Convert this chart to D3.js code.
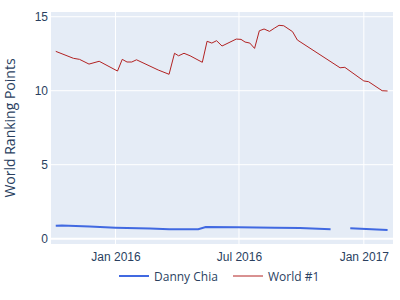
<!DOCTYPE html>
<html lang="en">
<head>
    <meta charset="UTF-8">
    <title>World Ranking Points</title>
    <script src="https://d3js.org/d3.v7.min.js"></script>
    <style>
        body { margin: 0; background: #fff; }
        svg { font-family: "Open Sans", sans-serif; }
        .tick text { fill: #2a3f5f; font-size: 12px; }
    </style>
</head>
<body>
    <div id="chart"></div>
    <script>
        // Danny Chia ranking points (null = gap in the line)
        const chiaDates = ["2015-10-05", "2015-10-14", "2015-11-24", "2016-01-01", "2016-02-21",
            "2016-03-20", "2016-05-02", "2016-05-13", "2016-06-30", "2016-08-23",
            "2016-09-29", "2016-11-13", "2016-11-27", "2016-12-12", "2017-02-05"];
        const chiaPoints = [0.88, 0.89, 0.82, 0.74, 0.68,
            0.64, 0.64, 0.79, 0.77, 0.74,
            0.72, 0.64, null, 0.70, 0.59];

        // World #1 ranking points
        const worldDates = ["2015-10-05", "2015-10-31", "2015-11-09", "2015-11-23", "2015-12-08",
            "2016-01-04", "2016-01-11", "2016-01-18", "2016-01-25", "2016-02-01",
            "2016-03-04", "2016-03-20", "2016-03-28", "2016-04-03", "2016-04-11",
            "2016-04-20", "2016-05-08", "2016-05-15", "2016-05-22", "2016-05-29",
            "2016-06-06", "2016-06-27", "2016-07-04", "2016-07-10", "2016-07-17",
            "2016-07-24", "2016-07-31", "2016-08-07", "2016-08-15", "2016-08-22",
            "2016-08-29", "2016-09-05", "2016-09-18", "2016-09-25", "2016-09-29",
            "2016-11-27", "2016-12-04", "2017-01-01", "2017-01-08", "2017-01-28",
            "2017-02-05"];
        const worldPoints = [12.66, 12.19, 12.12, 11.80, 11.99,
            11.33, 12.12, 11.94, 11.94, 12.09,
            11.40, 11.11, 12.53, 12.36, 12.53,
            12.36, 11.92, 13.34, 13.22, 13.38,
            13.02, 13.49, 13.47, 13.29, 13.22,
            12.86, 14.05, 14.17, 14.01, 14.22,
            14.42, 14.39, 13.99, 13.43, 13.31,
            11.55, 11.58, 10.66, 10.61, 10.00,
            9.98];

        const yTicks = [0, 5, 10, 15];
        const xTickDates = ["2016-01-01", "2016-07-01", "2017-01-01"];
        const xTickLabels = ["Jan 2016", "Jul 2016", "Jan 2017"];

        const seriesNames = ["Danny Chia", "World #1"];
        const seriesColors = ["#4169E1", "#B22222"];

        const W = 400, H = 300;
        const margin = { top: 12, right: 7, bottom: 56, left: 51 };
        const width = W - margin.left - margin.right;
        const height = H - margin.top - margin.bottom;

        const parse = d3.utcParse("%Y-%m-%d");
        const chia = chiaDates.map((d, i) => ({ date: parse(d), value: chiaPoints[i] }));
        const world = worldDates.map((d, i) => ({ date: parse(d), value: worldPoints[i] }));

        const svg = d3.select("#chart").append("svg")
            .attr("width", W)
            .attr("height", H);

        const g = svg.append("g")
            .attr("transform", `translate(${margin.left},${margin.top})`);

        const x = d3.scaleUtc()
            .domain([parse("2015-09-28"), parse("2017-02-13")])
            .range([0, width]);
        const y = d3.scaleLinear()
            .domain([-0.36, 15.32])
            .range([height, 0]);

        // Plot background
        g.append("rect")
            .attr("width", width)
            .attr("height", height)
            .attr("fill", "#E5ECF6");

        // Grid lines
        g.append("g")
            .selectAll("line")
            .data(xTickDates.map(parse))
            .join("line")
            .attr("x1", d => x(d)).attr("x2", d => x(d))
            .attr("y1", 0).attr("y2", height)
            .attr("stroke", "#fff").attr("stroke-width", 1);

        g.append("g")
            .selectAll("line")
            .data(yTicks)
            .join("line")
            .attr("x1", 0).attr("x2", width)
            .attr("y1", d => y(d)).attr("y2", d => y(d))
            .attr("stroke", "#fff")
            .attr("stroke-width", d => d === 0 ? 2 : 1);

        // Axes (text only)
        const xAxis = d3.axisBottom(x)
            .tickValues(xTickDates.map(parse))
            .tickFormat((d, i) => xTickLabels[i])
            .tickSize(0)
            .tickPadding(8);
        g.append("g")
            .attr("transform", `translate(0,${height})`)
            .call(xAxis)
            .call(s => s.select(".domain").remove());

        const yAxis = d3.axisLeft(y)
            .tickValues(yTicks)
            .tickSize(0)
            .tickPadding(3);
        g.append("g")
            .call(yAxis)
            .call(s => s.select(".domain").remove());

        svg.append("text")
            .attr("transform", `translate(11,${margin.top + height / 2}) rotate(-90)`)
            .attr("text-anchor", "middle")
            .attr("dominant-baseline", "middle")
            .attr("fill", "#2a3f5f")
            .style("font-size", "14px")
            .text("World Ranking Points");

        // Lines
        const line = d3.line()
            .defined(d => d.value !== null)
            .x(d => x(d.date))
            .y(d => y(d.value));

        g.append("path")
            .datum(chia)
            .attr("fill", "none")
            .attr("stroke", seriesColors[0])
            .attr("stroke-width", 2)
            .attr("d", line);

        g.append("path")
            .datum(world)
            .attr("fill", "none")
            .attr("stroke", seriesColors[1])
            .attr("stroke-width", 1)
            .attr("d", line);

        // Legend
        const legendX = [119, 233];
        const legend = svg.append("g")
            .selectAll("g")
            .data(seriesNames)
            .join("g")
            .attr("transform", (d, i) => `translate(${legendX[i]},276)`);
        legend.append("line")
            .attr("x1", 0).attr("x2", 30)
            .attr("stroke", (d, i) => seriesColors[i])
            .attr("stroke-width", (d, i) => i === 0 ? 2 : 1);
        legend.append("text")
            .attr("x", 35)
            .attr("dominant-baseline", "central")
            .attr("fill", "#2a3f5f")
            .style("font-size", "12px")
            .text(d => d);
    </script>
</body>
</html>
